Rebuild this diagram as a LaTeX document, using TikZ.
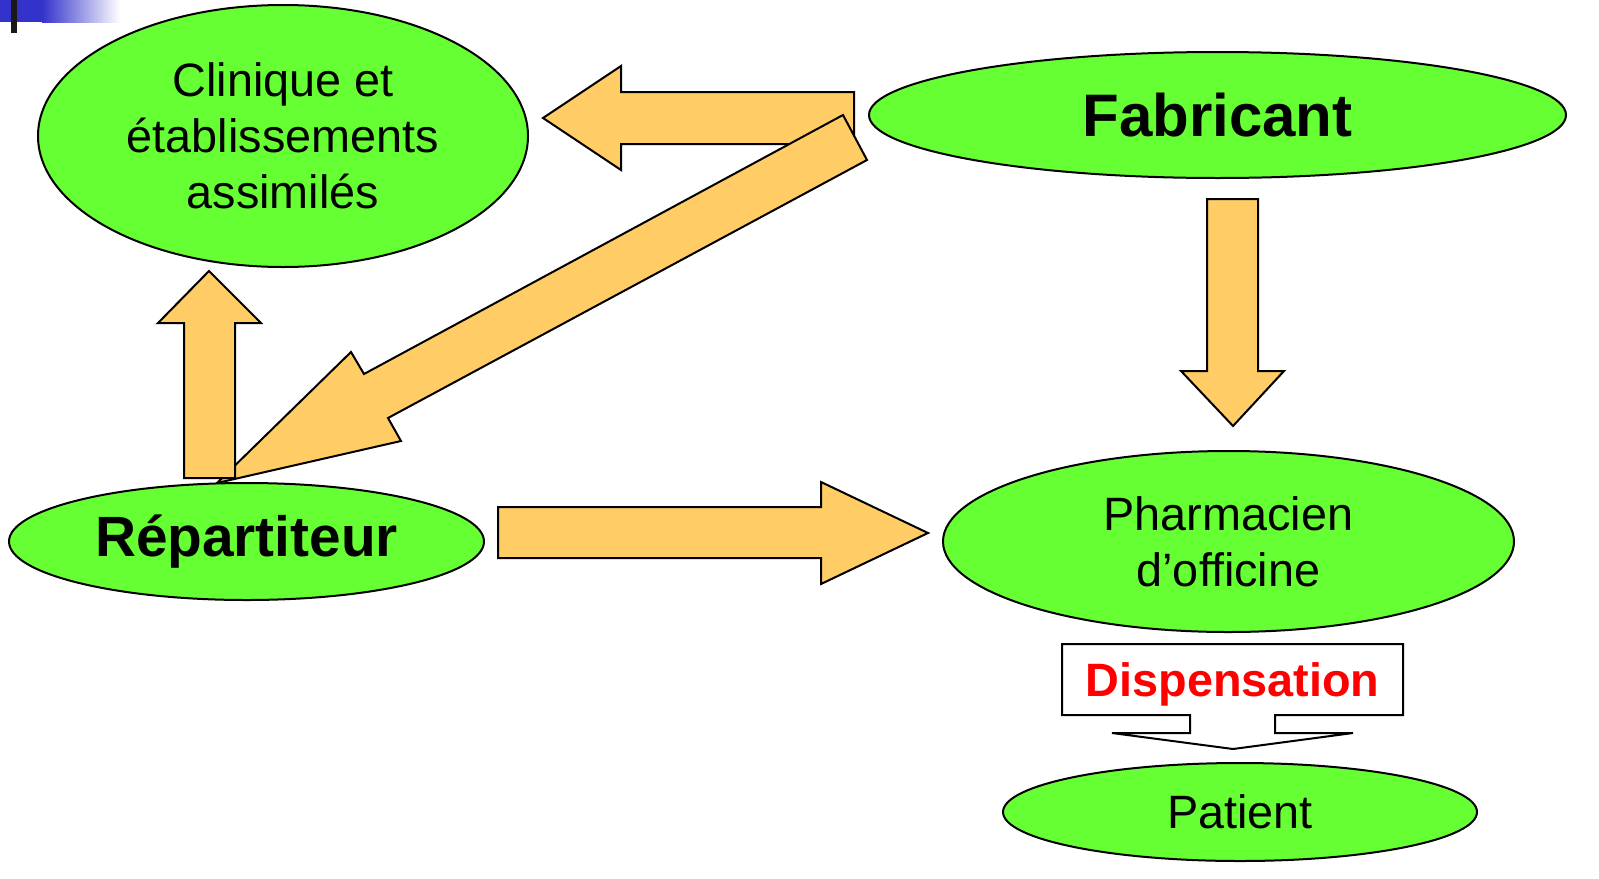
\documentclass[tikz,border=0pt]{standalone}
\usepackage{fontspec}
\setmainfont{Liberation Sans}
\usetikzlibrary{shapes.geometric}
\definecolor{ellgreen}{HTML}{66FF33}
\definecolor{arrorange}{HTML}{FFCC66}
\definecolor{barblue}{HTML}{3333CC}
\begin{document}
\begin{tikzpicture}[x=0.5pt,y=-0.5pt,
  ell/.style={ellipse,draw=black,line width=1pt,fill=ellgreen,inner sep=0pt,align=center},
  blockarrow/.style={draw=black,line width=1pt,fill=arrorange,line join=miter},
  regtext/.style={font=\fontsize{23.4}{28}\selectfont},
  boldtext/.style={font=\fontsize{30}{34}\selectfont\bfseries}]
\useasboundingbox (0,0) rectangle (1599,878);
% top-left decoration
\fill[barblue] (0,0) rectangle (42,22);
\shade[left color=barblue,right color=white] (42,0) rectangle (120,22);
\fill[black!90] (11,0) rectangle (17,33);

% ellipses
\node[ell,minimum width=245pt,minimum height=131pt,regtext] (clin) at (283,136) {Clinique et\\établissements\\assimilés};
\node[ell,minimum width=348.5pt,minimum height=63pt,boldtext] (fab) at (1217.5,115) {Fabricant};
\node[ell,minimum width=285.5pt,minimum height=90.5pt,regtext] (pharm) at (1228.5,541.5) {Pharmacien\\d’officine};
\node[ell,minimum width=237pt,minimum height=49pt,regtext] (pat) at (1240,812) {Patient};

% block arrows
% Fabricant -> Clinique
\draw[blockarrow] (854,92) -- (621,92) -- (621,66) -- (543,118) -- (621,170) -- (621,144) -- (854,144) -- cycle;
% Fabricant -> Repartiteur (diagonal)
\draw[blockarrow] (843,115) -- (364,374) -- (351,352) -- (217,483) -- (401,441) -- (388,418) -- (867,160) -- cycle;
% Repartiteur -> Clinique (up)
\draw[blockarrow] (184,478) -- (184,323) -- (158,323) -- (209,271) -- (261,323) -- (235,323) -- (235,478) -- cycle;
% Fabricant -> Pharmacien (down)
\draw[blockarrow] (1207,199) -- (1258,199) -- (1258,371) -- (1284,371) -- (1233,426) -- (1181,371) -- (1207,371) -- cycle;
% Repartiteur -> Pharmacien (right)
\draw[blockarrow] (498,507) -- (821,507) -- (821,482) -- (928,533) -- (821,584) -- (821,558) -- (498,558) -- cycle;

\node[ell,minimum width=237.5pt,minimum height=58.5pt,font=\fontsize{28.4}{32}\selectfont\bfseries] (rep) at (246.5,541.5) {Répartiteur};

% Dispensation callout
\draw[line width=1pt,fill=white,line join=miter] (1062,644) -- (1403,644) -- (1403,715) -- (1275,715) -- (1275,733) -- (1353,733) -- (1233,749) -- (1112,733) -- (1190,733) -- (1190,715) -- (1062,715) -- cycle;
\node[font=\fontsize{23.4}{28}\selectfont\bfseries,text=red,inner sep=0pt] (disp) at (1232.5,684) {Dispensation};
\end{tikzpicture}
\end{document}
